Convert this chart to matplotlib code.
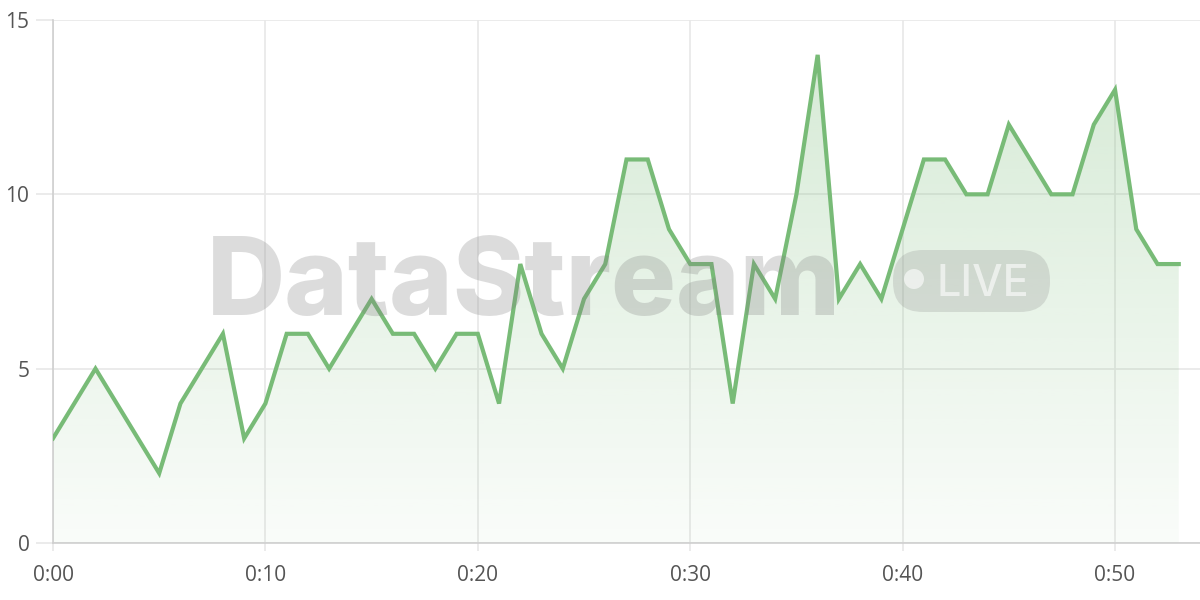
import numpy as np
import matplotlib
matplotlib.use("Agg")
import matplotlib.pyplot as plt
from matplotlib.patches import FancyBboxPatch, Ellipse

# one value per minute, 0:00 .. 0:53
minutes = list(range(54))
values = [3, 4, 5, 4, 3, 2, 4, 5, 6, 3,
          4, 6, 6, 5, 6, 7, 6, 6, 5, 6,
          6, 4, 8, 6, 5, 7, 8, 11, 11, 9,
          8, 8, 4, 8, 7, 10, 14, 7, 8, 7,
          9, 11, 11, 10, 10, 12, 11, 10, 10, 12,
          13, 9, 8, 8]
x_ticks = [0, 10, 20, 30, 40, 50]
x_labels = ["0:00", "0:10", "0:20", "0:30", "0:40", "0:50"]
y_ticks = [0, 5, 10, 15]

line_col = "#78bb77"
grid_col = "#e8e8e8"
axis_col = "#cfcfcf"
label_col = "#555555"

plt.rcParams["font.family"] = ["Open Sans", "DejaVu Sans"]

fig = plt.figure(figsize=(12, 6), dpi=100)
ax = fig.add_axes([53 / 1200, 57 / 600, 1147 / 1200, 523 / 600])

x = np.array(minutes, dtype=float)
y = np.array(values, dtype=float)

# gradient fill under the line
fill = ax.fill_between(x, y, 0, color="none", lw=0)
grad = np.linspace(0.04, 0.30, 256).reshape(-1, 1)
rgba = np.zeros((256, 1, 4))
rgba[..., 0] = 0x78 / 255
rgba[..., 1] = 0xbb / 255
rgba[..., 2] = 0x77 / 255
rgba[..., 3] = grad
img = ax.imshow(rgba, extent=[0, 53, 0, 14], origin="lower", aspect="auto", zorder=1)
img.set_clip_path(fill.get_paths()[0], transform=ax.transData)

ax.plot(x, y, color=line_col, lw=3, solid_joinstyle="miter", zorder=4)

ax.set_xlim(0, 54)
ax.set_ylim(0, 15)
ax.set_xticks(x_ticks)
ax.set_xticklabels(x_labels)
ax.set_yticks(y_ticks)
ax.grid(True, color=grid_col, lw=1.2, zorder=0)
ax.set_axisbelow(True)

for side in ["top", "right"]:
    ax.spines[side].set_visible(False)
ax.spines["left"].set_color(axis_col)
ax.spines["bottom"].set_color(axis_col)
ax.spines["left"].set_linewidth(1.2)
ax.spines["bottom"].set_linewidth(1.2)

ax.tick_params(axis="y", length=12, width=1.2, color=grid_col, pad=5,
               labelsize=15, labelcolor=label_col)
ax.tick_params(axis="x", length=6, width=1.2, color=grid_col, pad=10,
               labelsize=15, labelcolor=label_col)

# watermark
fig.text(207 / 1200, 1 - 315 / 600, "DataStream", fontsize=78, fontweight="heavy",
         family=["Inter", "DejaVu Sans"], color="#808080", alpha=0.27,
         ha="left", va="baseline", zorder=3)
pill = FancyBboxPatch((893 / 1200, 1 - 312 / 600), 157 / 1200, 62 / 600,
                      boxstyle="round,pad=0,rounding_size=0.025",
                      transform=fig.transFigure, facecolor="#808080",
                      edgecolor="none", alpha=0.22, zorder=3,
                      mutation_aspect=2)
fig.add_artist(pill)
fig.add_artist(Ellipse((914 / 1200, 1 - 279 / 600), 20 / 1200, 20 / 600,
                       transform=fig.transFigure, facecolor="white", alpha=0.6,
                       edgecolor="none", zorder=3))
fig.text(936 / 1200, 1 - 296 / 600, "LIVE", fontsize=31, fontweight="medium",
         family=["Inter", "DejaVu Sans"], color="white", alpha=0.6,
         ha="left", va="baseline", zorder=3)

fig.savefig("out.png", dpi=100)
